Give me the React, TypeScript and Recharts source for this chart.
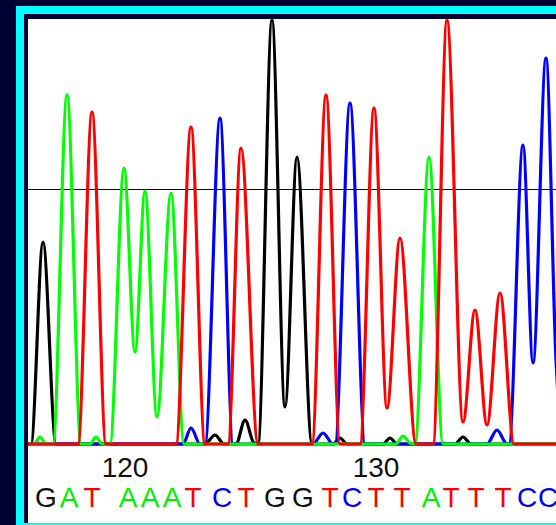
import React from 'react';
import { LineChart, Line, XAxis, YAxis, ReferenceLine } from 'recharts';

// scan positions (x) and signal intensity (v)
const gTrace = [
  { x: 0, v: 0 }, { x: 3, v: 0 }, { x: 15, v: 202 }, { x: 28, v: 0 },
  { x: 177, v: 0 }, { x: 187, v: 9 }, { x: 196, v: 0 },
  { x: 208, v: 0 }, { x: 217, v: 24 }, { x: 226, v: 1 },
  { x: 230, v: 0 }, { x: 244, v: 424 }, { x: 257, v: 37 }, { x: 269, v: 287 }, { x: 284, v: 0 },
  { x: 305, v: 0 }, { x: 312, v: 6 }, { x: 319, v: 0 },
  { x: 355, v: 0 }, { x: 362, v: 6 }, { x: 369, v: 0 },
  { x: 427, v: 0 }, { x: 435, v: 7 }, { x: 443, v: 0 },
  { x: 540, v: 0 },
];

const aTrace = [
  { x: 0, v: 0 }, { x: 6, v: 0 }, { x: 12, v: 7 }, { x: 18, v: 0 },
  { x: 25, v: 0 }, { x: 39, v: 349 }, { x: 53, v: 0 },
  { x: 62, v: 0 }, { x: 68, v: 7 }, { x: 74, v: 0 },
  { x: 82, v: 0 }, { x: 96, v: 276 }, { x: 107, v: 92 }, { x: 117, v: 253 },
  { x: 129, v: 27 }, { x: 143, v: 251 }, { x: 156, v: 0 },
  { x: 368, v: 0 }, { x: 375, v: 8 }, { x: 382, v: 1 },
  { x: 387, v: 0 }, { x: 401, v: 287 }, { x: 415, v: 0 },
  { x: 540, v: 0 },
];

const tTrace = [
  { x: 0, v: 0 },
  { x: 50, v: 0 }, { x: 64, v: 332 }, { x: 78, v: 0 },
  { x: 148, v: 0 }, { x: 163, v: 317 }, { x: 177, v: 0 },
  { x: 200, v: 0 }, { x: 213, v: 296 }, { x: 230, v: 0 },
  { x: 284, v: 0 }, { x: 298, v: 349 }, { x: 312, v: 0 },
  { x: 332, v: 0 }, { x: 346, v: 336 }, { x: 359, v: 36 }, { x: 372, v: 206 }, { x: 388, v: 0 },
  { x: 405, v: 0 }, { x: 419, v: 424 }, { x: 435, v: 22 }, { x: 447, v: 134 },
  { x: 459, v: 19 }, { x: 472, v: 151 }, { x: 486, v: 0 },
  { x: 540, v: 0 },
];

const cTrace = [
  { x: 0, v: 0 },
  { x: 155, v: 0 }, { x: 163, v: 16 }, { x: 172, v: 0 },
  { x: 177, v: 0 }, { x: 192, v: 326 }, { x: 205, v: 0 },
  { x: 285, v: 0 }, { x: 295, v: 11 }, { x: 305, v: 0 },
  { x: 307, v: 0 }, { x: 322, v: 341 }, { x: 337, v: 0 },
  { x: 459, v: 0 }, { x: 469, v: 14 }, { x: 479, v: 0 },
  { x: 481, v: 0 }, { x: 495, v: 299 }, { x: 505, v: 81 }, { x: 518, v: 386 },
  { x: 528, v: 84 }, { x: 534, v: 4 }, { x: 536, v: 0 },
  { x: 540, v: 0 },
];

const baseCalls = ['G', 'A', 'T', 'A', 'A', 'A', 'T', 'C', 'T', 'G', 'G', 'T', 'C', 'T', 'T', 'A', 'T', 'T', 'T', 'C', 'C'];
const baseScans = [18, 41, 64, 100, 122, 144, 165, 194, 218, 247, 275, 302, 324, 348, 374, 403, 423, 448, 475, 499, 520];
const positionTicks = [97, 348];
const positionLabels = ['120', '130'];
const thresholdLevel = 254.5;

const baseColors: Record<string, string> = { A: '#00ee00', C: '#0000ff', G: '#111111', T: '#ff0000' };
const traceColors = { G: '#000000', A: '#00ff00', T: '#ff0000', C: '#0000ff' };

const NumTick = (props: any) => {
  const { x, y, index } = props;
  return (
    <text x={x} y={y + 30} textAnchor="middle" fill="#111" fontFamily="'Liberation Sans', Arial, sans-serif" fontSize={28}>
      {positionLabels[index]}
    </text>
  );
};

const BaseTick = (props: any) => {
  const { x, y, index } = props;
  const b = baseCalls[index];
  return (
    <text x={x} y={y + 30} textAnchor="middle" fill={baseColors[b]} fontFamily="'Liberation Sans', Arial, sans-serif" fontSize={28}>
      {b}
    </text>
  );
};

export default function App() {
  return (
    <div style={{ position: 'fixed', left: 0, top: 0, width: 556, height: 525, overflow: 'hidden', background: '#000033' }}>
      <div style={{ position: 'absolute', left: 16, top: 6, width: 600, height: 600, background: '#00ffff' }} />
      <div style={{ position: 'absolute', left: 24, top: 14, width: 600, height: 509, background: '#000033' }} />
      <div style={{ position: 'absolute', left: 28, top: 19, width: 600, height: 504, background: '#ffffff' }} />
      <div style={{ position: 'absolute', left: 28, top: 19 }}>
        <LineChart width={540} height={504} margin={{ top: 0, right: 0, bottom: 0, left: 0 }}>
          <XAxis
            xAxisId="pos"
            type="number"
            dataKey="x"
            domain={[0, 540]}
            allowDataOverflow
            ticks={positionTicks}
            interval={0}
            height={30}
            axisLine={false}
            tickLine={false}
            tickSize={0}
            tickMargin={0}
            tick={NumTick}
          />
          <XAxis
            xAxisId="seq"
            type="number"
            dataKey="x"
            domain={[0, 540]}
            allowDataOverflow
            ticks={baseScans}
            interval={0}
            height={46}
            axisLine={false}
            tickLine={false}
            tickSize={0}
            tickMargin={0}
            tick={BaseTick}
          />
          <YAxis hide type="number" domain={[-3, 425]} allowDataOverflow />
          <ReferenceLine xAxisId="pos" y={thresholdLevel} stroke="#000033" strokeWidth={1} />
          <Line xAxisId="pos" data={gTrace} dataKey="v" type="monotone" stroke={traceColors.G} strokeWidth={3.2} strokeLinejoin="round" dot={false} isAnimationActive={false} />
          <Line xAxisId="pos" data={cTrace} dataKey="v" type="monotone" stroke={traceColors.C} strokeWidth={3.2} strokeLinejoin="round" dot={false} isAnimationActive={false} />
          <Line xAxisId="pos" data={aTrace} dataKey="v" type="monotone" stroke={traceColors.A} strokeWidth={3.2} strokeLinejoin="round" dot={false} isAnimationActive={false} />
          <Line xAxisId="pos" data={tTrace} dataKey="v" type="monotone" stroke={traceColors.T} strokeWidth={3.2} strokeLinejoin="round" dot={false} isAnimationActive={false} />
        </LineChart>
      </div>
    </div>
  );
}
